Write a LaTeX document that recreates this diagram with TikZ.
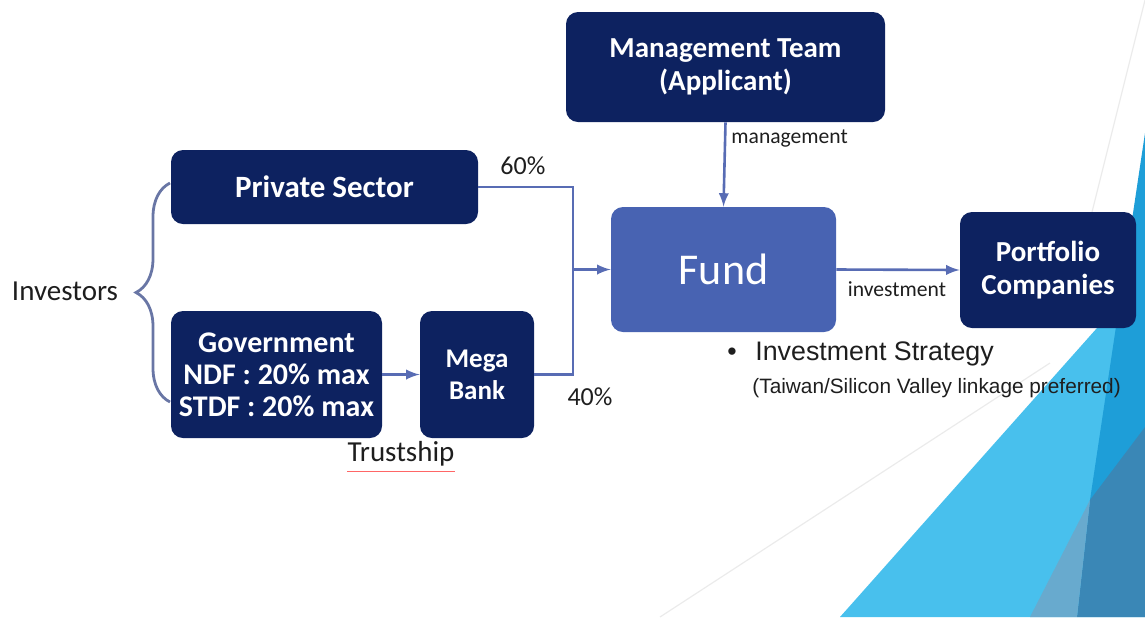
\documentclass[tikz,border=0pt]{standalone}
\usepackage{fontspec}
\setmainfont{Carlito}
\newfontfamily\arialfont{Liberation Sans}
\usetikzlibrary{decorations.pathreplacing}
\definecolor{navy}{RGB}{13,34,96}
\definecolor{fundblue}{RGB}{72,99,178}
\definecolor{linkblue}{RGB}{88,108,180}
\definecolor{bracegray}{RGB}{105,118,165}
\definecolor{inkgray}{RGB}{30,30,30}
\definecolor{bglight}{RGB}{72,192,237}
\definecolor{bgmid}{RGB}{30,158,216}
\definecolor{bgsteel}{RGB}{58,135,182}
\definecolor{bgpale}{RGB}{104,170,206}
\tikzset{
  box/.style={fill=navy, rounded corners=6pt, text=white, inner sep=0pt,
    align=center, font=\bfseries\fontsize{14.5}{16.5}\selectfont},
  link/.style={draw=linkblue, line width=1.3pt},
  lbl/.style={text=inkgray, inner sep=0pt, font=\fontsize{14.5}{16}\selectfont},
  small/.style={text=inkgray, inner sep=0pt, font=\fontsize{10.8}{12}\selectfont},
}
\begin{document}
\begin{tikzpicture}[x=0.5pt,y=-0.5pt]
  \useasboundingbox (0,0) rectangle (1145,617);
  % slide background
  \fill[bglight] (1145,274) -- (840,617) -- (1145,617) -- cycle;
  \fill[bgmid] (1145,133) -- (1090,500) -- (1145,500) -- cycle;
  \fill[bgsteel] (1145,427) -- (1090,500) -- (1077,617) -- (1145,617) -- cycle;
  \fill[bgpale] (1090,500) -- (1030,617) -- (1077,617) -- cycle;
  \draw[black!8, line width=0.6pt] (1145,0) -- (1090,220);
  \draw[black!8, line width=0.6pt] (660,617) -- (1050,363);
  % boxes
  \node[box, minimum width=159.5pt, minimum height=55pt] (mgmt) at (725.5,67) {Management Team\\(Applicant)};
  \node[box, minimum width=153.5pt, minimum height=37pt, font=\bfseries\fontsize{15.5}{17}\selectfont] (private) at (324.5,187) {Private Sector};
  \node[box, minimum width=105.5pt, minimum height=63.5pt, font=\bfseries\fontsize{15}{16}\selectfont] (gov) at (276.5,374.5) {Government\\NDF : 20\% max\\STDF : 20\% max};
  \node[box, minimum width=57pt, minimum height=63.5pt, font=\bfseries\fontsize{13.5}{16}\selectfont] (mega) at (477,374.5) {Mega\\Bank};
  \node[box, fill=fundblue, font=\fontsize{22}{26}\selectfont, minimum width=112.5pt, minimum height=62.5pt] (fund) at (723.5,269.5) {Fund};
  \node[box, minimum width=88pt, minimum height=58pt] (port) at (1048,270) {Portfolio\\Companies};
  % labels
  \node[lbl] (investors) at (65,291) {Investors};
  \node[lbl, anchor=west, font=\fontsize{13}{15}\selectfont] (pct60) at (500,166) {60\%};
  \node[lbl, font=\fontsize{13}{15}\selectfont] (pct40) at (590,397) {40\%};
  \node[lbl] (trust) at (401,454) {Trustship};
  \node[small, anchor=west] (mlabel) at (731,139) {management};
  \node[small] (ilabel) at (897,289) {investment};
  \node[text=inkgray, anchor=west, inner sep=0pt, font=\arialfont\fontsize{13.4}{15}\selectfont] (strategy) at (727,354) {\makebox[14pt][l]{•}Investment Strategy};
  \node[text=inkgray, anchor=west, inner sep=0pt, font=\arialfont\fontsize{10.4}{12}\selectfont] (pref) at (752,388) {(Taiwan/Silicon Valley linkage preferred)};
  \draw[red!60, line width=0.5pt] ([yshift=-2.5pt]trust.south west) -- ([yshift=-2.5pt]trust.south east);
  % brace
  \coordinate (braceTop) at (170,183);
  \coordinate (braceBot) at (170,402);
  \draw[bracegray, line width=1.4pt, decorate, decoration={brace, amplitude=17pt}] (braceBot) -- (braceTop);
  % connectors
  \coordinate (join) at (573,269.5);
  \draw[link] (private.east) -| (join);
  \draw[link] (mega.east) -| (join);
  \draw[link, -latex] (join) -- (fund.west);
  \draw[link, -latex] (gov.east) -- (mega.west);
  \draw[link, -latex] (mgmt.south) -- (fund.north);
  \draw[link, -latex] (fund.east) -- (port.west);
\end{tikzpicture}
\end{document}
